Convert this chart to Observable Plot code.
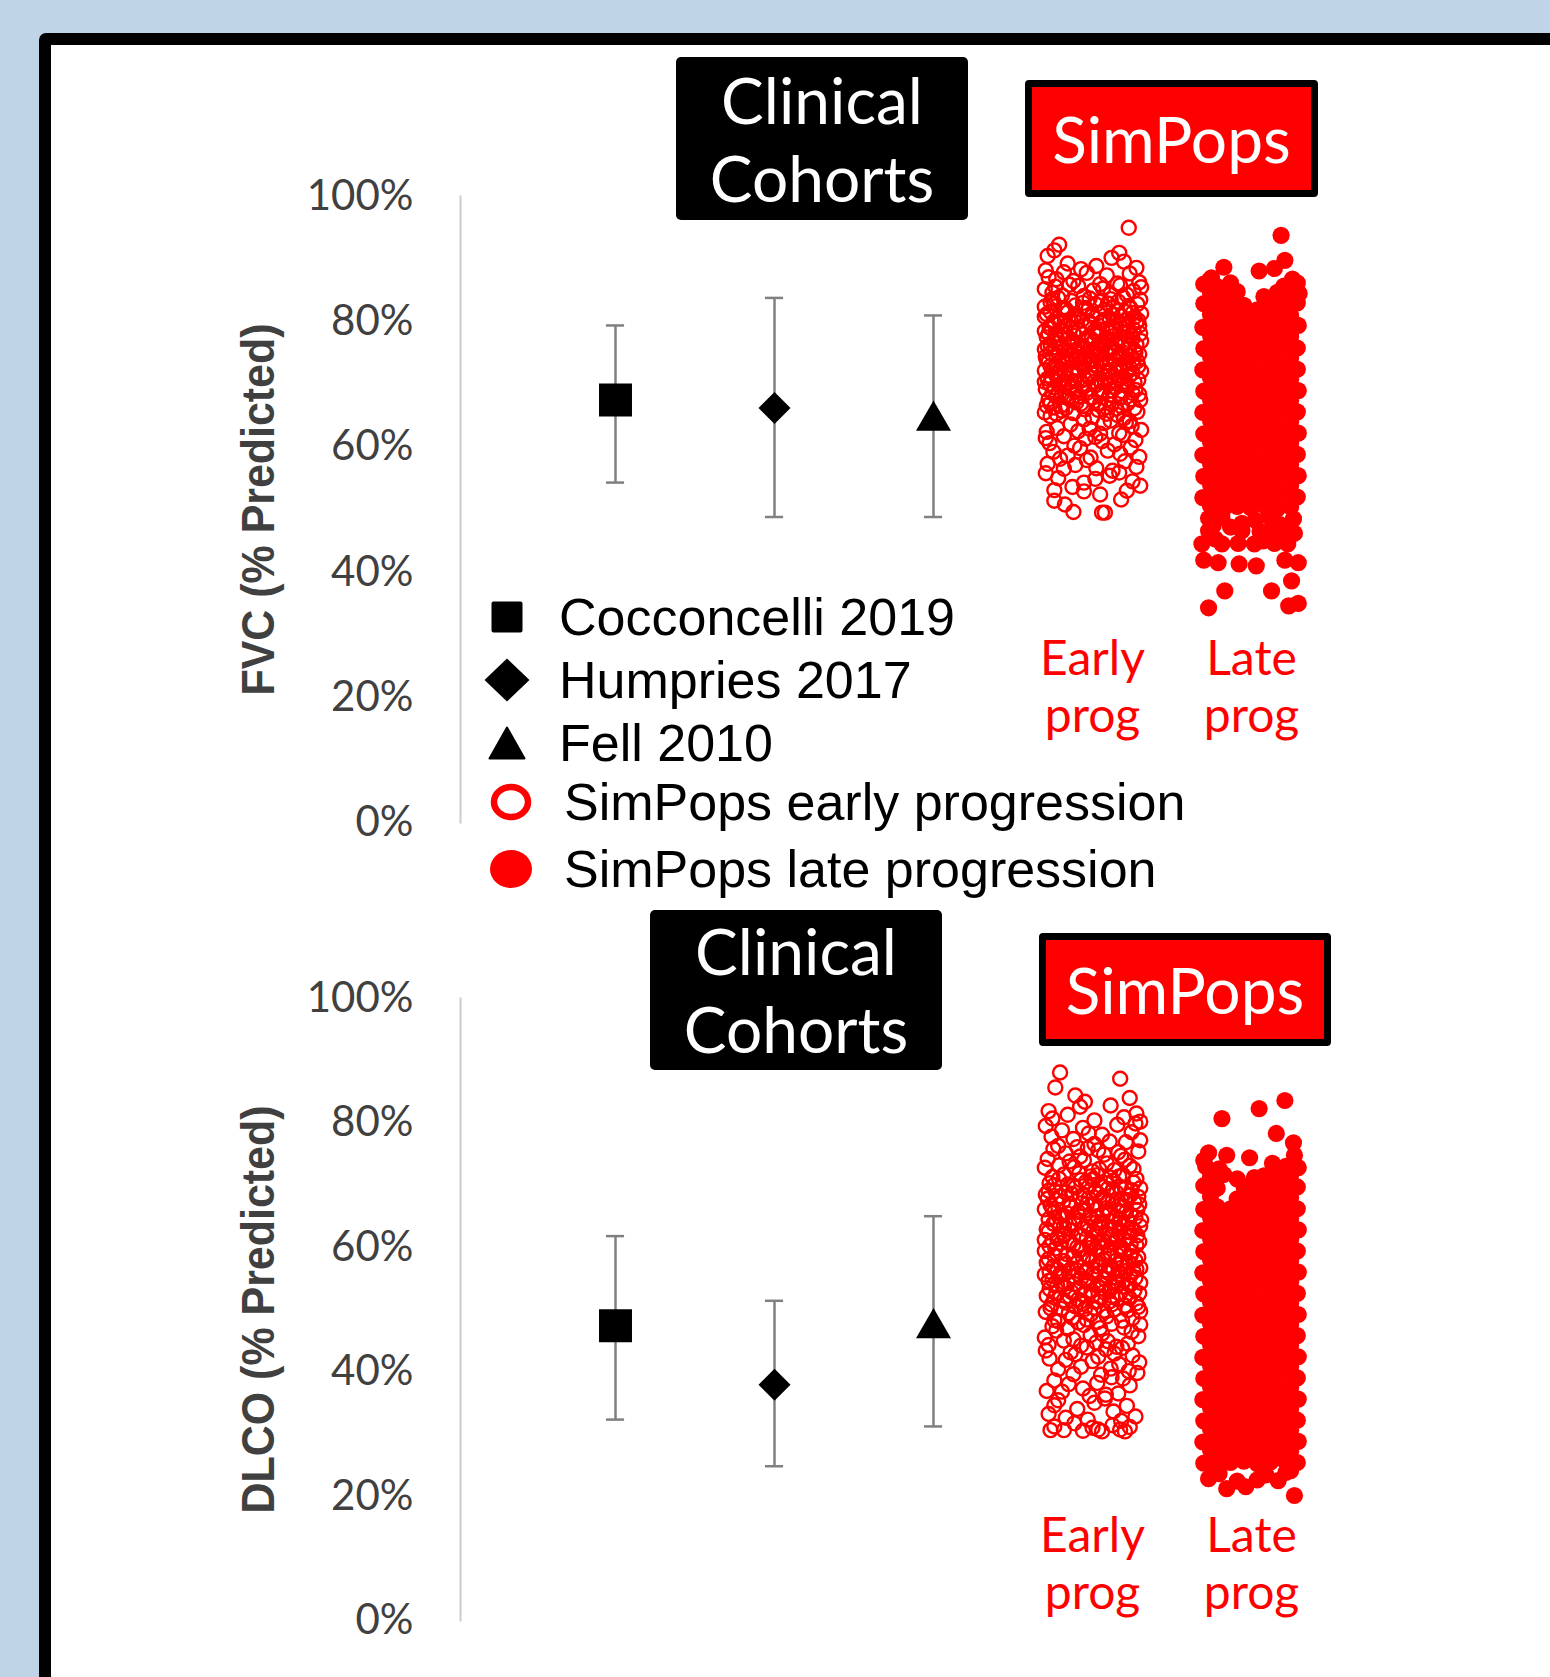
<!DOCTYPE html>
<html>
<head>
<meta charset="utf-8">
<script src="https://cdn.jsdelivr.net/npm/d3@7"></script>
<script src="https://cdn.jsdelivr.net/npm/@observablehq/plot@0.6"></script>
<style>
html,body{margin:0;padding:0;}
body{width:1550px;height:1677px;background:#bfd4e6;overflow:hidden;position:relative;font-family:"Liberation Sans",Arial,sans-serif;}
#panel{position:absolute;left:39px;top:33px;width:1600px;height:1700px;background:#fff;border:12px solid #000;border-radius:7px;box-sizing:border-box;}
.chart{position:absolute;left:0;}
.box{position:absolute;box-sizing:border-box;display:flex;flex-direction:column;align-items:center;justify-content:center;color:#fff;font-family:Lato,sans-serif;font-size:64px;line-height:78px;}
.clin{background:#000;border-radius:5px;}
.sim{background:#ff0000;border:7px solid #000;border-radius:4px;}
.legrow{position:absolute;left:0;height:60px;width:1200px;}
.legrow svg{position:absolute;top:5px;}
.legrow span{position:absolute;top:0;line-height:60px;font-size:52px;color:#000;white-space:nowrap;}
</style>
</head>
<body>
<div id="panel"></div>
<div id="fvc" class="chart" style="top:0px"></div>
<div id="dlco" class="chart" style="top:880px"></div>
<div class="box clin" style="left:676px;top:57px;width:292px;height:163px"><div>Clinical</div><div>Cohorts</div></div>
<div class="box sim" style="left:1025px;top:80px;width:293px;height:117px"><div>SimPops</div></div>
<div class="box clin" style="left:650px;top:910px;width:292px;height:160px"><div>Clinical</div><div>Cohorts</div></div>
<div class="box sim" style="left:1039px;top:933px;width:292px;height:113px"><div>SimPops</div></div>
<div id="legend"></div>
<script>
// ---------- data ----------
const categories = ["Cocconcelli 2019", "Humpries 2017", "Fell 2010", "SimPops early progression", "SimPops late progression"];
const catPos = [1, 2, 3, 4, 5];
const fvcMean = [67.5, 66.2, 64.2];
const fvcLow = [54.3, 48.8, 48.8];
const fvcHigh = [79.4, 83.8, 81.0];
const dlcoMean = [47.4, 37.9, 47.0];
const dlcoLow = [32.3, 24.8, 31.2];
const dlcoHigh = [61.8, 51.4, 65.0];
const yTicks = [0, 20, 40, 60, 80, 100];
const yTickLabels = ["0%", "20%", "40%", "60%", "80%", "100%"];
const simLabels = ["Early\nprog", "Late\nprog"];
const axisTitles = ["FVC (% Predicted)", "DLCO (% Predicted)"];

// simulated individuals: [jitter, % predicted]
const fvcEarly = [
[3.8,95.0],[-4.0,91.4],[-3.5,92.3],[2.8,91.0],[2.0,90.2],[-4.7,90.5],
[4.6,88.6],[-2.6,89.3],[0.4,88.9],[-4.9,88.2],[3.3,89.6],[-1.2,88.4],
[1.5,87.4],[-3.8,86.8],[4.9,86.3],[-0.6,87.8],[2.6,86.1],[-4.6,87.1],[3.9,87.7],[-2.0,86.5],[0.8,86.0],[-3.0,87.9],
[-5.0,85.2],[1.9,84.4],[-1.5,85.7],[4.3,84.9],[-3.2,84.2],[0.1,85.0],[2.9,85.8],[-4.2,84.6],[5.1,85.5],[-0.9,84.1],[3.6,84.3],[-2.4,85.9],[1.1,85.3],[-3.9,85.6],
[-4.4,83.1],[2.2,82.3],[-0.3,83.7],[4.7,82.8],[-2.8,82.0],[0.9,83.4],[3.2,83.9],[-1.8,82.6],[5.0,83.5],[-3.6,83.8],[1.6,82.9],[-5.0,82.4],[2.7,83.2],[-0.7,82.2],[4.0,82.1],[-2.2,83.3],[0.4,82.7],[-4.0,82.9],
[3.4,81.6],[-1.1,80.3],[-4.8,81.2],[1.3,81.9],[4.4,80.7],[-2.6,81.5],[0.0,80.9],[2.5,80.1],[-3.7,80.6],[5.1,81.3],[-0.5,81.8],[1.8,80.5],[-4.1,80.0],[3.0,80.9],[-1.9,81.0],[0.6,81.4],[-3.1,81.9],[4.8,80.2],[-5.0,80.8],[2.1,81.1],[-2.3,80.4],[1.0,80.0],
[-0.2,79.6],[3.7,78.4],[-4.5,79.1],[1.5,78.9],[-2.0,78.2],[4.9,79.4],[-3.4,79.8],[0.4,78.1],[2.8,79.9],[-1.4,78.7],[-5.0,78.5],[3.1,79.0],[-0.8,79.3],[1.9,78.3],[4.3,78.8],[-2.7,79.5],[0.9,79.8],[-3.9,78.0],[2.4,78.6],[-1.7,79.9],[5.0,78.1],[-4.3,78.9],[0.2,78.5],[3.5,79.7],
[-2.5,77.3],[1.0,76.4],[4.1,77.8],[-4.0,76.9],[-0.4,77.6],[2.6,76.2],[-3.2,76.0],[0.7,77.9],[3.4,76.7],[-1.6,76.5],[5.1,76.9],[-4.8,77.5],[1.7,77.1],[-2.9,77.9],[0.1,76.8],[2.9,77.4],[-1.0,76.1],[4.6,76.3],[-3.7,77.2],[1.3,76.6],[-0.6,77.0],[2.2,77.7],[-4.4,76.3],[3.8,77.1],[-2.1,76.6],[0.5,76.0],
[4.4,75.4],[-1.3,74.2],[2.0,75.8],[-3.5,75.1],[0.3,74.6],[-4.9,74.4],[3.2,74.1],[-0.9,75.6],[1.5,74.9],[-2.4,74.7],[4.9,74.8],[-3.9,75.9],[0.9,75.3],[2.7,74.4],[-1.9,75.4],[-4.4,75.0],[3.7,75.7],[-0.1,74.0],[1.8,75.9],[-2.8,74.2],[4.0,74.6],[-5.0,75.6],[0.6,75.0],[2.4,75.2],[-1.5,74.9],[-3.1,74.5],
[-0.5,73.4],[3.0,72.3],[-3.8,73.0],[1.2,72.8],[4.7,73.7],[-2.2,72.1],[0.2,72.5],[-4.6,73.6],[2.3,73.9],[-1.2,73.2],[3.9,72.7],[-3.3,72.4],[0.8,73.8],[-5.0,72.2],[1.9,72.0],[-0.9,72.7],[4.3,73.2],[-2.6,73.7],[2.8,73.0],[-4.1,72.6],[0.4,73.1],[-1.8,72.5],[5.1,72.1],[1.5,73.5],
[2.1,71.3],[-3.0,70.6],[0.5,70.1],[4.2,71.8],[-1.6,71.5],[-4.7,70.9],[3.3,70.4],[-0.3,71.0],[1.6,71.9],[-2.5,70.2],[4.8,70.7],[-3.9,71.6],[0.9,70.5],[-1.1,70.0],[2.7,70.9],[-4.3,71.1],[3.9,71.4],[-2.0,71.8],[0.0,71.6],[1.3,70.3],[-5.0,70.4],[-0.8,70.8],
[-2.3,69.4],[1.8,68.3],[4.5,69.1],[-4.2,68.7],[0.3,69.8],[3.1,68.9],[-1.4,68.1],[-3.5,69.9],[2.4,69.5],[-0.6,68.6],[4.9,68.4],[-4.9,69.2],[1.1,69.0],[-2.8,68.2],[3.6,69.7],[-1.0,69.5],[0.7,68.4],[-3.8,68.0],
[0.2,67.3],[-3.3,66.6],[2.9,67.8],[-1.7,67.1],[4.4,66.2],[-4.6,67.6],[1.4,66.4],[-0.8,66.0],[3.7,67.0],[-2.6,67.9],[5.0,67.5],[-4.0,66.3],[2.0,66.8],[-1.2,66.9],
[-2.0,65.4],[3.3,64.6],[0.6,65.9],[-4.4,64.9],[1.9,64.2],[4.7,65.6],[-0.9,64.4],[-3.2,65.8],[2.6,65.1],[-5.0,65.5],[0.0,64.8],[3.9,64.1],
[4.1,63.3],[-1.5,62.5],[1.2,63.8],[-3.7,63.0],[2.8,62.2],[-0.3,62.9],[-4.8,62.4],[3.5,63.9],[-2.3,63.6],[0.8,62.1],[5.1,62.7],
[-0.7,61.3],[2.3,60.4],[-3.0,61.7],[4.5,61.1],[-4.5,60.6],[1.0,60.9],[3.2,61.9],[-1.9,60.2],[0.3,61.6],[-4.9,61.4],
[1.6,59.4],[-2.6,58.6],[4.0,59.9],[-4.1,59.2],[-0.2,58.3],[2.9,58.9],[-1.3,59.8],[4.9,58.4],[-3.4,58.1],
[-4.7,57.3],[0.4,56.6],[3.4,57.7],[-1.8,57.1],[2.1,56.2],[-3.0,56.5],[4.6,56.8],[-0.6,57.9],
[1.8,55.4],[-3.6,55.0],[4.2,54.5],[-0.9,54.3],[-4.9,55.8],[2.8,55.9],[0.3,54.9],
[-2.1,53.6],[3.6,53.0],[5.0,53.8],[-4.0,53.1],[0.8,52.4],[-0.9,52.9],
[-2.0,49.6],[1.0,49.5],[1.3,49.5],[-4.0,51.4],[3.0,51.6],[-2.9,50.8],
[-4.2,83.6],[-1.0,83.0],[1.9,83.6],[3.8,82.5],[-3.0,82.2],[0.0,81.2],[2.6,81.7],[-4.4,81.6],[4.2,81.4],[-1.5,80.7],
[1.2,80.3],[-2.9,80.1],[3.6,80.4],[-0.3,79.9],[-4.0,79.6],[2.0,79.2],[4.6,79.9],[-2.3,79.0],[0.6,78.8],[-1.0,78.0],
[3.3,78.2],[-3.1,78.5],[1.4,77.5],[-4.6,78.1],[4.2,77.3],[-0.1,77.2],[-2.0,76.9],[2.5,76.7],[-3.6,76.6],[0.9,76.2],
[3.9,76.1],[-1.3,75.8],[-4.7,76.1],[1.8,75.4],[-2.8,75.5],[4.5,75.1],[0.1,75.2],[-0.8,74.5],[2.9,74.9],[-3.8,74.6],
[1.0,74.1],[-2.1,74.0],[4.3,74.0],[-4.8,73.9],[3.5,73.4],[-0.2,73.7],[-1.6,73.9],[1.8,73.2],[-3.0,73.4],[0.5,72.9],
[2.5,72.6],[-4.4,72.9],[4.8,72.9],[-1.4,72.2],[-2.9,71.9],[1.0,71.6],[3.2,71.2],[-0.5,71.3],[-3.6,71.2],[2.3,70.6],
[4.4,70.3],[-1.9,70.5],[0.2,70.4],[-4.5,70.1],[1.7,70.0],[3.6,69.9],[-2.9,69.6],[-0.4,69.3],[2.0,69.0],[-1.8,68.8],
[4.2,68.6],[-4.0,69.5],[0.9,68.7],[2.9,68.0],[-3.2,68.4],[-0.2,67.9],[1.6,67.6],[-2.2,67.5],[4.0,67.6],[-4.4,66.9],
[0.8,66.9],[3.1,66.4],[-1.0,66.5],[-2.8,66.2],[2.5,66.1],[-4.8,66.6],[1.5,65.3],[-3.8,65.3]
];

const fvcLate = [
[3.1,93.8],[3.5,89.8],[2.4,88.5],[0.8,88.1],[-2.9,88.7],[-4.2,87.0],[4.3,86.8],
[-5.0,86.0],[-3.6,85.6],[-2.2,86.2],[3.4,85.7],[4.8,86.2],[-4.4,86.6],
[-4.3,84.6],[-2.9,84.2],[-1.5,84.8],[1.3,84.0],[2.7,84.7],[4.1,84.3],[5.0,84.5],
[-5.0,82.9],[-3.6,82.5],[-2.2,83.0],[-0.8,82.6],[0.6,81.9],[2.0,82.8],[3.4,82.4],[4.8,83.0],
[-4.3,81.2],[-2.9,80.8],[-1.5,81.1],[-0.1,80.9],[1.3,81.3],[2.7,80.7],[4.1,81.0],
[-5.1,79.1],[-3.6,79.5],[-2.2,79.2],[-0.8,79.4],[0.6,79.0],[2.0,79.6],[3.4,79.2],[4.9,79.4],
[-4.3,77.8],[-2.9,77.4],[-1.5,77.7],[-0.1,77.5],[1.3,77.8],[2.7,77.3],[4.1,77.6],
[-5.0,75.7],[-3.6,76.1],[-2.2,75.8],[-0.8,76.0],[0.6,75.6],[2.0,75.9],[3.4,76.2],[4.8,75.8],
[-4.3,74.4],[-2.9,74.0],[-1.5,74.3],[-0.1,74.1],[1.3,74.5],[2.7,73.9],[4.1,74.2],
[-5.1,72.3],[-3.6,72.7],[-2.2,72.4],[-0.8,72.6],[0.6,72.2],[2.0,72.5],[3.4,72.8],[4.8,72.4],
[-4.3,71.0],[-2.9,70.6],[-1.5,70.9],[-0.1,70.7],[1.3,71.1],[2.7,70.5],[4.1,70.8],
[-5.0,68.9],[-3.6,69.3],[-2.2,69.0],[-0.8,69.2],[0.6,68.8],[2.0,69.1],[3.4,69.4],[4.9,69.0],
[-4.3,67.6],[-2.9,67.2],[-1.5,67.5],[-0.1,67.3],[1.3,67.7],[2.7,67.1],[4.1,67.4],
[-5.1,65.5],[-3.6,65.9],[-2.2,65.6],[-0.8,65.8],[0.6,65.4],[2.0,65.7],[3.4,66.0],[4.8,65.6],
[-4.3,64.2],[-2.9,63.8],[-1.5,64.1],[-0.1,63.9],[1.3,64.3],[2.7,63.7],[4.1,64.0],
[-5.0,62.1],[-3.6,62.5],[-2.2,62.2],[-0.8,62.4],[0.6,62.0],[2.0,62.3],[3.4,62.6],[4.9,62.2],
[-4.3,60.8],[-2.9,60.4],[-1.5,60.7],[-0.1,60.5],[1.3,60.9],[2.7,60.3],[4.1,60.6],
[-5.1,58.7],[-3.6,59.1],[-2.2,58.8],[-0.8,59.0],[0.6,58.6],[2.0,58.9],[3.4,59.2],[4.8,58.8],
[-4.3,57.4],[-2.9,57.0],[-1.5,57.3],[-0.1,57.1],[1.3,57.5],[2.7,56.9],[4.1,57.2],
[-5.0,55.3],[-3.6,55.7],[-2.2,55.4],[-0.8,55.6],[0.6,55.2],[2.0,55.5],[3.4,55.8],[4.9,55.4],
[-4.3,54.0],[-2.9,53.6],[-1.5,53.9],[-0.1,53.7],[1.3,54.1],[2.7,53.5],[4.1,53.8],
[-5.1,51.9],[-3.6,52.3],[-2.2,52.0],[-0.8,52.2],[0.6,51.8],[2.0,52.1],[3.4,52.4],[4.8,52.0],
[-4.3,50.6],[-2.9,50.2],[-1.5,50.5],[-0.1,50.3],[1.3,50.7],[2.7,50.1],[4.1,50.4],
[-4.5,48.6],[-3.1,48.8],[-1.0,47.8],[0.4,48.3],[1.8,48.9],[3.0,47.6],[4.4,48.5],
[-4.0,47.5],[-2.2,47.2],[0.9,46.5],[2.9,45.8],[-3.8,45.3],[1.2,45.0],[4.5,46.2],
[-4.5,46.6],[-1.0,46.6],[2.1,46.9],[3.7,47.2],
[-5.2,44.5],[-3.1,44.5],[-1.4,44.6],[0.3,44.5],[2.4,44.6],[3.8,44.5],
[-5.0,41.9],[-3.5,41.5],[-1.3,41.3],[0.5,41.0],[3.5,41.9],[4.9,41.5],
[-2.8,37.0],[2.1,37.0],[4.2,38.6],[-4.5,34.3],[3.9,34.6],[4.9,35.0]
];

const dlcoEarly = [
[-3.4,88.1],[-3.9,85.7],[2.9,87.1],[-1.8,84.4],[3.9,84.0],
[1.9,82.8],[-1.3,82.6],[-4.6,81.9],[-4.2,80.7],[-2.6,81.3],[4.6,81.5],[0.2,80.4],[3.3,80.9],[-0.8,83.4],[5.0,80.2],
[-4.9,79.5],[-3.2,78.8],[-1.0,79.2],[1.0,78.1],[2.6,79.7],[4.1,78.5],[-2.0,77.4],[0.2,76.6],[3.5,76.9],[-4.3,77.8],[5.0,77.2],[-0.4,78.3],[1.8,77.0],[-3.6,76.3],[4.5,79.9],[-1.6,76.1],
[0.6,75.6],[-2.8,75.1],[3.0,74.7],[-4.7,74.2],[1.5,73.5],[-0.9,74.0],[4.8,75.4],[-3.5,73.2],[2.3,72.4],[-1.9,72.9],[0.0,72.2],[3.9,73.1],[-4.1,75.8],[1.2,74.9],[-2.4,73.8],[4.3,72.6],[-0.5,75.9],[2.7,75.3],[-5.0,72.8],[-1.3,74.6],[3.4,74.1],[0.7,72.6],
[-3.0,71.7],[1.9,71.2],[-0.7,70.5],[4.6,71.0],[-4.5,70.3],[2.8,69.8],[0.3,69.1],[-2.2,68.6],[3.7,68.3],[-1.4,71.9],[5.0,69.5],[-3.9,69.0],[1.1,68.0],[-0.2,71.4],[2.2,70.7],[-4.9,68.5],[3.2,71.6],[-2.6,70.1],[0.8,70.0],[4.1,69.2],[-1.8,69.6],[-3.4,68.2],[1.6,69.4],[-0.9,68.4],[4.8,68.1],[2.5,68.8],[-4.2,71.3],[0.0,70.9],
[3.5,67.6],[-1.1,67.1],[-4.4,66.8],[1.4,66.3],[4.7,66.0],[-2.7,65.5],[0.5,65.0],[2.9,64.6],[-3.8,64.2],[-0.4,67.9],[2.1,67.4],[-5.0,66.1],[4.0,65.2],[-1.9,64.8],[1.0,64.1],[-3.1,67.3],[3.2,66.6],[-0.8,65.9],[5.1,64.4],[-4.0,65.7],[1.8,65.5],[-2.3,66.5],[0.2,66.9],[3.8,64.0],[-1.4,64.3],[4.4,67.2],[-3.5,64.9],[2.4,64.9],[-0.1,64.5],[-4.7,67.8],[1.2,67.7],[2.7,65.9],
[-2.4,63.7],[0.9,63.2],[4.3,62.8],[-4.6,62.5],[2.0,62.0],[-0.6,61.5],[3.4,61.1],[-3.3,60.7],[1.5,60.3],[-1.6,60.0],[5.0,63.4],[-5.0,61.2],[0.1,62.6],[2.8,63.9],[-2.9,62.1],[4.0,60.5],[-0.9,63.0],[1.9,61.6],[-4.1,63.8],[3.0,60.1],[-1.2,61.9],[0.6,60.8],[-3.7,61.4],[4.7,61.9],[2.3,63.1],[-2.0,60.4],[0.3,63.9],[-4.5,60.2],[3.9,62.4],[-0.3,60.6],[1.4,62.3],[-3.0,63.3],[4.9,60.9],[2.5,61.3],
[0.4,59.6],[-3.4,59.2],[2.6,58.8],[-1.0,58.3],[4.5,57.9],[-4.8,57.5],[1.7,57.0],[-2.2,56.6],[3.5,56.2],[-0.2,59.9],[-4.0,58.6],[1.1,58.0],[-1.7,57.4],[4.1,59.3],[2.2,56.4],[-3.0,57.8],[0.6,56.9],[5.0,56.7],[-4.5,56.1],[3.0,59.7],[-0.8,56.0],[1.9,59.1],[-2.7,58.9],[4.8,58.4],[-5.0,59.4],[0.0,57.7],[2.9,57.3],[-1.4,59.5],[-3.7,56.5],[3.8,57.6],[1.3,56.3],[-0.5,58.7],[-2.5,56.2],[4.3,56.1],
[-1.5,55.7],[2.4,55.2],[-4.2,54.8],[0.8,54.3],[3.9,53.9],[-2.9,53.5],[-0.1,53.0],[4.9,52.6],[-4.8,52.2],[1.6,55.9],[-3.5,55.4],[2.0,53.7],[-0.8,52.4],[3.2,54.6],[-1.9,54.1],[0.3,55.5],[-4.5,53.3],[4.5,55.1],[1.2,52.8],[-2.4,52.1],[3.5,52.3],[-0.4,54.5],[-3.1,54.0],[2.7,54.0],[5.0,54.3],[-5.0,55.6],[0.9,53.4],[-1.2,55.0],[2.1,52.1],[-3.8,52.6],
[2.6,51.7],[-1.3,51.2],[-4.3,50.8],[0.2,50.3],[3.7,49.9],[-2.5,49.4],[1.5,48.9],[-0.6,48.4],[4.6,51.0],[-3.6,48.1],[-4.9,49.6],[2.3,50.0],[-1.8,50.5],[0.9,51.9],[4.2,48.6],[-3.0,51.5],[3.1,48.2],[-0.2,49.2],[1.8,51.3],[-2.1,48.7],[5.0,49.7],[-4.0,48.3],[0.5,48.0],[-1.0,50.9],[3.4,50.6],[-3.3,50.1],
[-0.9,47.5],[3.3,47.1],[-3.8,46.6],[1.0,46.1],[4.8,45.7],[-2.0,45.2],[0.4,44.7],[-4.6,44.3],[2.5,44.0],[-1.5,47.9],[-3.0,45.0],[2.0,47.7],[4.1,46.4],[-0.2,45.9],[1.6,44.9],[-4.2,47.3],[3.7,44.5],[-2.6,46.9],[0.8,47.0],[-1.2,44.2],[5.0,47.6],[-5.0,45.5],
[1.4,43.6],[-2.3,43.1],[4.2,42.6],[-4.5,42.1],[0.0,41.7],[2.8,41.2],[-1.2,40.8],[-3.6,40.4],[3.8,40.1],[-0.6,43.9],[1.9,40.5],[-4.9,43.4],[4.9,41.5],[-2.8,41.9],[0.6,42.4],[3.1,43.8],[-1.8,42.8],[2.3,42.9],
[-2.0,39.6],[2.0,39.1],[-4.0,38.6],[0.5,38.2],[3.9,37.8],[-1.0,37.3],[-3.2,36.8],[1.4,36.3],[4.7,39.8],[-4.8,36.9],[2.7,36.5],[-0.3,36.1],[3.2,38.9],[-2.5,38.0],[0.9,39.5],
[-3.6,35.4],[0.2,35.0],[3.6,34.5],[-1.6,34.0],[2.2,33.6],[-4.6,33.2],[4.5,32.8],[-0.5,32.3],[1.3,35.7],[-2.8,32.6],[3.0,32.1],[-4.0,34.6],
[-4.0,31.2],[-3.0,30.6],[-1.9,31.7],[-1.0,30.5],[0.0,31.0],[1.0,30.4],[2.1,31.4],[2.9,30.7],[3.9,31.1],[-4.4,30.6],[0.6,30.7],[3.4,30.4],
[-3.5,71.0],[0.5,71.6],[2.8,71.4],[-1.2,70.8],[4.3,70.4],[-4.0,70.0],[1.4,70.3],[-2.0,69.9],[3.4,69.5],[-0.4,69.7],
[-4.6,69.1],[2.1,69.1],[-2.8,68.8],[0.6,68.6],[4.0,68.4],[-1.3,68.1],[3.0,67.8],[-3.8,67.6],[1.6,67.3],[-0.6,66.9],
[4.9,66.9],[-2.4,67.0],[0.4,66.1],[2.7,66.6],[-4.2,66.2],[-1.5,65.7],[3.5,65.6],[1.1,65.2],[-3.1,65.1],[-0.3,64.9],
[4.5,64.8],[2.1,64.2],[-4.6,64.5],[-1.9,63.9],[0.8,63.8],[3.2,63.6],[-3.4,63.5],[-0.5,63.3],[1.8,62.9],[4.1,63.1],
[-2.2,62.7],[-4.8,62.9],[0.4,62.2],[2.8,62.3],[-1.4,62.0],[3.8,61.6],[-3.0,61.8],[1.1,61.2],[-0.1,60.9],[-4.2,61.0],
[2.3,60.7],[4.6,60.3],[-2.5,60.9],[0.9,59.9],[-1.1,59.7],[3.3,59.2],[-3.9,59.8],[1.6,58.7],[-2.0,58.5],[4.0,58.6],
[-0.3,58.2],[-4.6,58.1],[2.5,57.9],[0.7,57.4],[-2.9,57.3],[3.6,57.0],[-1.2,56.8],[1.9,56.7],[-4.1,56.9],[4.6,56.5],
[-0.6,56.4],[2.9,55.7],[-3.3,55.9],[0.1,55.8],[-1.9,55.3],[4.0,55.5],[1.3,54.9],[-4.6,54.6],[-0.7,54.7],[2.4,54.5],
[-2.6,54.5],[3.5,53.6],[0.5,53.8],[-3.7,53.9],[-1.3,53.5],[1.8,53.1],[4.4,53.1],[-2.2,52.8],[0.0,52.2],[2.9,52.6],
[-4.0,51.9],[-1.5,51.6],[3.9,51.8],[0.6,51.3],[-2.8,51.1],[2.0,50.8],[4.8,50.4],[-0.8,50.1],[-4.4,50.2],[1.2,49.8]
];

const dlcoLate = [
[-3.1,80.7],[0.8,82.3],[3.5,83.6],[2.6,78.3],[4.4,76.8],[4.5,74.8],[-4.5,75.2],[-2.6,74.8],[-0.2,74.4],[0.3,71.2],[3.1,72.0],[-5.0,74.0],
[-4.8,73.0],[-3.4,72.6],[2.2,73.5],[3.6,73.0],[4.9,72.8],
[-4.3,71.3],[-2.9,71.7],[-1.5,71.0],[1.3,71.5],[2.7,71.2],[4.1,71.6],
[-5.0,69.9],[-3.6,69.5],[-0.8,69.8],[0.6,69.4],[2.0,69.9],[3.4,69.6],[4.8,69.7],
[-4.3,68.2],[-1.5,67.8],[-0.1,68.1],[1.3,67.9],[2.7,68.3],[4.1,68.0],
[-5.0,66.1],[-3.6,66.5],[-2.2,66.2],[-0.8,66.4],[0.6,66.0],[2.0,66.3],[3.4,66.6],[4.8,66.2],
[-4.3,64.8],[-2.9,64.4],[-1.5,64.7],[-0.1,64.5],[1.3,64.9],[2.7,64.3],[4.1,64.6],
[-5.1,62.7],[-3.6,63.1],[-2.2,62.8],[-0.8,63.0],[0.6,62.6],[2.0,62.9],[3.4,63.2],[4.9,62.8],
[-4.3,61.4],[-2.9,61.0],[-1.5,61.3],[-0.1,61.1],[1.3,61.5],[2.7,60.9],[4.1,61.2],
[-5.0,59.3],[-3.6,59.7],[-2.2,59.4],[-0.8,59.6],[0.6,59.2],[2.0,59.5],[3.4,59.8],[4.8,59.4],
[-4.3,58.0],[-2.9,57.6],[-1.5,57.9],[-0.1,57.7],[1.3,58.1],[2.7,57.5],[4.1,57.8],
[-5.1,55.9],[-3.6,56.3],[-2.2,56.0],[-0.8,56.2],[0.6,55.8],[2.0,56.1],[3.4,56.4],[4.9,56.0],
[-4.3,54.6],[-2.9,54.2],[-1.5,54.5],[-0.1,54.3],[1.3,54.7],[2.7,54.1],[4.1,54.4],
[-5.0,52.5],[-3.6,52.9],[-2.2,52.6],[-0.8,52.8],[0.6,52.4],[2.0,52.7],[3.4,53.0],[4.8,52.6],
[-4.3,51.2],[-2.9,50.8],[-1.5,51.1],[-0.1,50.9],[1.3,51.3],[2.7,50.7],[4.1,51.0],
[-5.1,49.1],[-3.6,49.5],[-2.2,49.2],[-0.8,49.4],[0.6,49.0],[2.0,49.3],[3.4,49.6],[4.9,49.2],
[-4.3,47.8],[-2.9,47.4],[-1.5,47.7],[-0.1,47.5],[1.3,47.9],[2.7,47.3],[4.1,47.6],
[-5.0,45.7],[-3.6,46.1],[-2.2,45.8],[-0.8,46.0],[0.6,45.6],[2.0,45.9],[3.4,46.2],[4.8,45.8],
[-4.3,44.4],[-2.9,44.0],[-1.5,44.3],[-0.1,44.1],[1.3,44.5],[2.7,43.9],[4.1,44.2],
[-5.1,42.3],[-3.6,42.7],[-2.2,42.4],[-0.8,42.6],[0.6,42.2],[2.0,42.5],[3.4,42.8],[4.9,42.4],
[-4.3,41.0],[-2.9,40.6],[-1.5,40.9],[-0.1,40.7],[1.3,41.1],[2.7,40.5],[4.1,40.8],
[-5.0,38.9],[-3.6,39.3],[-2.2,39.0],[-0.8,39.2],[0.6,38.8],[2.0,39.1],[3.4,39.4],[4.8,39.0],
[-4.3,37.6],[-2.9,37.2],[-1.5,37.5],[-0.1,37.3],[1.3,37.7],[2.7,37.1],[4.1,37.4],
[-5.1,35.5],[-3.6,35.9],[-2.2,35.6],[-0.8,35.8],[0.6,35.4],[2.0,35.7],[3.4,36.0],[4.9,35.6],
[-4.3,34.2],[-2.9,33.8],[-1.5,34.1],[-0.1,33.9],[1.3,34.3],[2.7,33.7],[4.1,34.0],
[-5.0,32.1],[-3.6,32.5],[-2.2,32.2],[-0.8,32.4],[0.6,32.0],[2.0,32.3],[3.4,32.6],[4.8,32.2],
[-4.3,30.8],[-2.9,30.4],[-1.5,30.7],[-0.1,30.5],[1.3,30.9],[2.7,30.3],[4.1,30.6],
[-5.1,28.7],[-3.6,29.1],[-2.2,28.8],[-0.8,29.0],[0.6,28.6],[2.0,28.9],[3.4,29.2],[4.9,28.8],
[-4.3,27.4],[-2.9,27.0],[-1.5,27.3],[-0.1,27.1],[1.3,27.5],[2.7,26.9],[4.1,27.2],
[-5.0,25.3],[-3.6,25.7],[-2.2,25.4],[-0.8,25.6],[0.6,25.2],[2.0,25.5],[3.4,25.8],[4.8,25.4],
[-4.5,22.8],[-3.4,23.6],[-2.6,21.2],[-1.5,22.4],[-0.6,21.5],[0.6,22.6],[1.5,23.4],[2.8,22.5],[3.6,23.8],[4.5,20.1],[-4.0,24.0],[4.1,24.1]
];

// ---------- styling constants ----------
const JIT = 0.06;       // jitter unit in category units
const CAP = 0.057;      // error-bar cap half-width in category units
const RED = "#ff0000";
const symbolNames = ["square", "diamond2", "triangle"];
const symbolSizes = [18.6, 14.4, 13];

function makeChart({mean, low, high, early, late, title, titleLength, height, marginTop, marginBottom, labelDy}) {
  const clinical = mean.map((m, i) => ({x: catPos[i], mean: m, low: low[i], high: high[i], study: categories[i]}));
  const marks = [
    Plot.frame({anchor: "left", stroke: "#cccccc", strokeWidth: 2}),
    Plot.axisY({ticks: yTicks, tickFormat: d => yTickLabels[yTicks.indexOf(d)], tickSize: 0, tickPadding: 47,
      fontSize: 42, fontFamily: "Lato, 'Open Sans', sans-serif", label: null}),
    Plot.text([title], {frameAnchor: "left", dx: -202, rotate: -90, fontSize: 47, fontWeight: "bold",
      fontFamily: "'Liberation Sans Narrow', 'Liberation Sans', Arial, sans-serif", fill: "#404040"}),
    Plot.ruleX(clinical, {x: "x", y1: "low", y2: "high", stroke: "#808080", strokeWidth: 2.5}),
    Plot.ruleY(clinical, {y: "high", x1: d => d.x - CAP, x2: d => d.x + CAP, stroke: "#808080", strokeWidth: 2.5}),
    Plot.ruleY(clinical, {y: "low", x1: d => d.x - CAP, x2: d => d.x + CAP, stroke: "#808080", strokeWidth: 2.5}),
    ...clinical.map((d, i) => Plot.dot([d], {x: "x", y: "mean", symbol: symbolNames[i], r: symbolSizes[i], fill: "#000", stroke: "none"})),
    Plot.dot(early, {x: d => catPos[3] + d[0] * JIT, y: d => d[1], r: 7, stroke: RED, strokeWidth: 2.4, fill: "none"}),
    Plot.dot(late, {x: d => catPos[4] + d[0] * JIT, y: d => d[1], r: 8.6, fill: RED, stroke: "none"}),
    Plot.text(simLabels, {x: (d, i) => catPos[3 + i], frameAnchor: "bottom", dy: labelDy, lineAnchor: "bottom",
      lineHeight: 1.17, fontSize: 48, fontFamily: "Lato, sans-serif", fill: RED})
  ];
  const svg = Plot.plot({
    width: 1550, height, marginLeft: 460, marginRight: 140, marginTop, marginBottom,
    x: {domain: [0, 6], range: [456, 1410], axis: null},
    y: {domain: [0, 100]},
    style: {background: "transparent", color: "#404040", overflow: "visible"},
    marks
  });
  svg.querySelectorAll("text").forEach(t => {
    if (t.textContent === title) {
      t.setAttribute("text-anchor", "start");
      t.setAttribute("x", -titleLength / 2);
      t.setAttribute("textLength", titleLength);
      t.setAttribute("lengthAdjust", "spacingAndGlyphs");
    }
  });
  return svg;
}

document.getElementById("fvc").appendChild(makeChart({
  mean: fvcMean, low: fvcLow, high: fvcHigh, early: fvcEarly, late: fvcLate,
  title: axisTitles[0], titleLength: 372, height: 880, marginTop: 196, marginBottom: 58, labelDy: -91
}));
document.getElementById("dlco").appendChild(makeChart({
  mean: dlcoMean, low: dlcoLow, high: dlcoHigh, early: dlcoEarly, late: dlcoLate,
  title: axisTitles[1], titleLength: 408, height: 797, marginTop: 118, marginBottom: 57, labelDy: -12
}));

// ---------- legend ----------
const swatches = [
  '<rect x="9.5" y="9.5" width="31" height="31" rx="2" fill="#000"/>',
  '<polygon points="25,3.5 47.5,25 25,46.5 2.5,25" fill="#000"/>',
  '<polygon points="25,9.5 42.5,40.5 7.5,40.5" fill="#000" stroke="#000" stroke-width="2" stroke-linejoin="round"/>',
  '<ellipse cx="25" cy="25" rx="17" ry="15" fill="none" stroke="' + RED + '" stroke-width="6.5"/>',
  '<ellipse cx="25" cy="25" rx="21" ry="19" fill="' + RED + '"/>'
];
const legendY = [617, 680, 743, 802, 869];
const legendSwatchX = [507, 507, 507, 511, 511];
const legendTextX = [559, 559, 559, 564, 564];
const legend = document.getElementById("legend");
categories.forEach((c, i) => {
  const row = document.createElement("div");
  row.className = "legrow";
  row.style.top = (legendY[i] - 30) + "px";
  row.innerHTML = '<svg width="50" height="50" style="left:' + (legendSwatchX[i] - 25) + 'px">' + swatches[i] + '</svg>' +
    '<span style="left:' + legendTextX[i] + 'px"></span>';
  row.querySelector("span").textContent = c;
  legend.appendChild(row);
});
</script>
</body>
</html>
